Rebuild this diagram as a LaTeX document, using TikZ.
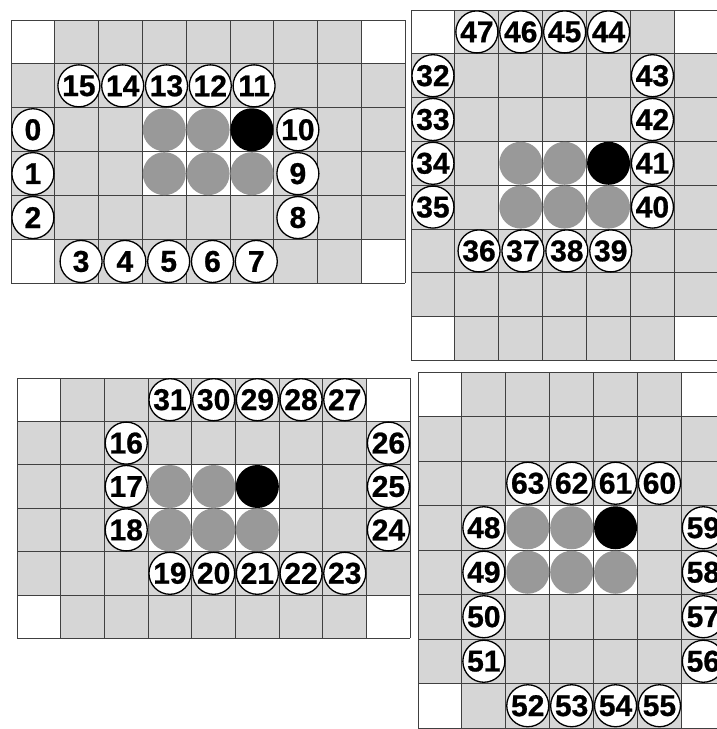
\documentclass[tikz,border=0pt]{standalone}
\usepackage{fontspec}
\setmainfont{Liberation Sans}
\newfontfamily\numfont[FakeBold=0.8]{Liberation Sans Bold}
\definecolor{cellgray}{gray}{0.84}
\definecolor{ballgray}{gray}{0.6}
\definecolor{gridline}{gray}{0.25}
\tikzset{
  num/.style={circle, draw=black, line width=1.3pt, fill=white, minimum size=42pt,
    inner sep=0pt, font=\numfont\fontsize{30}{30}\selectfont},
  gridln/.style={draw=gridline, line width=0.9pt},
  gball/.style={fill=ballgray},
  kball/.style={fill=black},
}
% cols, rows, block col, block row
\newcommand\drawpanel[4]{%
  \fill[cellgray] (0,0) rectangle (#1,#2);
  \fill[white] (0,0) rectangle (1,1);
  \fill[white] (#1-1,0) rectangle (#1,1);
  \fill[white] (0,#2-1) rectangle (1,#2);
  \fill[white] (#1-1,#2-1) rectangle (#1,#2);
  \fill[white] (#3,#4) rectangle (#3+3,#4+2);
  \foreach \i in {0,...,#1} \draw[gridln] (\i,0) -- (\i,#2);
  \foreach \j in {0,...,#2} \draw[gridln] (0,\j) -- (#1,\j);
  \fill[gball] (#3+0.5,#4+0.5) circle[radius=21.5pt];
  \fill[gball] (#3+1.5,#4+0.5) circle[radius=21.5pt];
  \fill[kball] (#3+2.5,#4+0.5) circle[radius=21.5pt];
  \fill[gball] (#3+0.5,#4+1.5) circle[radius=21.5pt];
  \fill[gball] (#3+1.5,#4+1.5) circle[radius=21.5pt];
  \fill[gball] (#3+2.5,#4+1.5) circle[radius=21.5pt];
}
\begin{document}
\begin{tikzpicture}[x=1pt,y=-1pt]
\clip (0,0) rectangle (717,729);
\fill[white] (0,0) rectangle (717,729);

% Panel A (top-left)
\begin{scope}[shift={(11pt,-20pt)}, x=43.8pt, y=-43.9pt]
  \drawpanel{9}{6}{3}{2}
  \node[num] (n0) at (0.5,2.5) {0};
  \node[num] (n1) at (0.5,3.5) {1};
  \node[num] (n2) at (0.5,4.5) {2};
  \node[num] (n3) at (1.6,5.5) {3};
  \node[num] (n4) at (2.6,5.5) {4};
  \node[num] (n5) at (3.6,5.5) {5};
  \node[num] (n6) at (4.6,5.5) {6};
  \node[num] (n7) at (5.6,5.5) {7};
  \node[num] (n8) at (6.55,4.5) {8};
  \node[num] (n9) at (6.55,3.5) {9};
  \node[num] (n10) at (6.55,2.5) {10};
  \node[num] (n11) at (5.55,1.5) {11};
  \node[num] (n12) at (4.55,1.5) {12};
  \node[num] (n13) at (3.55,1.5) {13};
  \node[num] (n14) at (2.55,1.5) {14};
  \node[num] (n15) at (1.55,1.5) {15};
\end{scope}

% Panel B (top-right)
\begin{scope}[shift={(411pt,-10pt)}, x=43.9pt, y=-43.8pt]
  \drawpanel{7}{8}{2}{3}
  \node[num] (n32) at (0.5,1.5) {32};
  \node[num] (n33) at (0.5,2.5) {33};
  \node[num] (n34) at (0.5,3.5) {34};
  \node[num] (n35) at (0.5,4.5) {35};
  \node[num] (n36) at (1.55,5.5) {36};
  \node[num] (n37) at (2.55,5.5) {37};
  \node[num] (n38) at (3.55,5.5) {38};
  \node[num] (n39) at (4.55,5.5) {39};
  \node[num] (n40) at (5.5,4.5) {40};
  \node[num] (n41) at (5.5,3.5) {41};
  \node[num] (n42) at (5.5,2.5) {42};
  \node[num] (n43) at (5.5,1.5) {43};
  \node[num] (n44) at (4.5,0.5) {44};
  \node[num] (n45) at (3.5,0.5) {45};
  \node[num] (n46) at (2.5,0.5) {46};
  \node[num] (n47) at (1.5,0.5) {47};
\end{scope}

% Panel C (bottom-left)
\begin{scope}[shift={(17pt,-378pt)}, x=43.7pt, y=-43.4pt]
  \drawpanel{9}{6}{3}{2}
  \node[num] (n16) at (2.5,1.5) {16};
  \node[num] (n17) at (2.5,2.5) {17};
  \node[num] (n18) at (2.5,3.5) {18};
  \node[num] (n19) at (3.5,4.5) {19};
  \node[num] (n20) at (4.5,4.5) {20};
  \node[num] (n21) at (5.5,4.5) {21};
  \node[num] (n22) at (6.5,4.5) {22};
  \node[num] (n23) at (7.5,4.5) {23};
  \node[num] (n24) at (8.5,3.5) {24};
  \node[num] (n25) at (8.5,2.5) {25};
  \node[num] (n26) at (8.5,1.5) {26};
  \node[num] (n27) at (7.5,0.5) {27};
  \node[num] (n28) at (6.5,0.5) {28};
  \node[num] (n29) at (5.5,0.5) {29};
  \node[num] (n30) at (4.5,0.5) {30};
  \node[num] (n31) at (3.5,0.5) {31};
\end{scope}

% Panel D (bottom-right)
\begin{scope}[shift={(418pt,-372pt)}, x=43.9pt, y=-44.5pt]
  \drawpanel{7}{8}{2}{3}
  \node[num] (n48) at (1.5,3.5) {48};
  \node[num] (n49) at (1.5,4.5) {49};
  \node[num] (n50) at (1.5,5.5) {50};
  \node[num] (n51) at (1.5,6.5) {51};
  \node[num] (n52) at (2.5,7.5) {52};
  \node[num] (n53) at (3.5,7.5) {53};
  \node[num] (n54) at (4.5,7.5) {54};
  \node[num] (n55) at (5.5,7.5) {55};
  \node[num] (n56) at (6.5,6.5) {56};
  \node[num] (n57) at (6.5,5.5) {57};
  \node[num] (n58) at (6.5,4.5) {58};
  \node[num] (n59) at (6.5,3.5) {59};
  \node[num] (n60) at (5.5,2.5) {60};
  \node[num] (n61) at (4.5,2.5) {61};
  \node[num] (n62) at (3.5,2.5) {62};
  \node[num] (n63) at (2.5,2.5) {63};
\end{scope}
\end{tikzpicture}
\end{document}
